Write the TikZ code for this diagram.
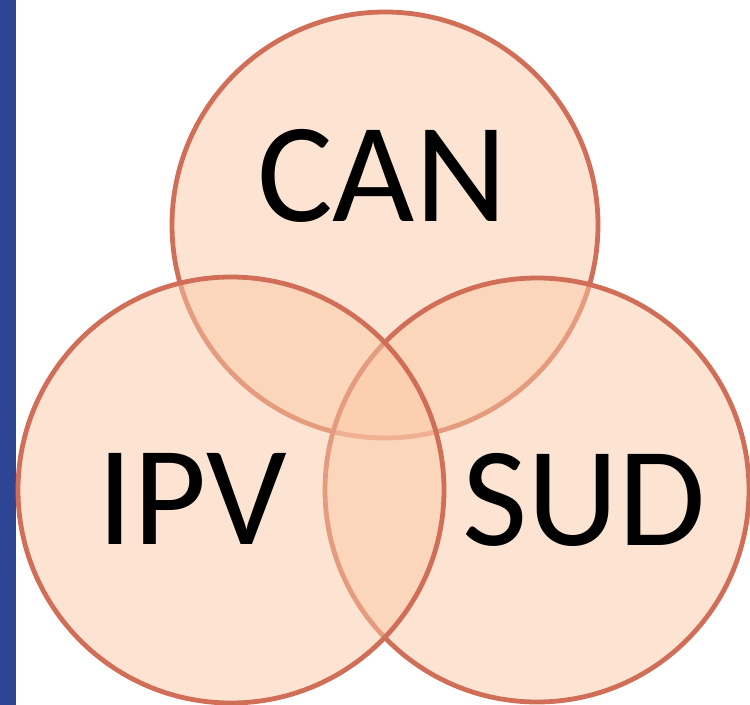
\documentclass[tikz,border=0pt]{standalone}
\usepackage{fontspec}
\setmainfont{Carlito}
\usepackage{tikz}
\definecolor{barblue}{RGB}{46,69,148}
\definecolor{vennfill}{RGB}{250,200,165}
\definecolor{vennline}{RGB}{208,110,88}

\begin{document}
\begin{tikzpicture}[x=0.5pt,y=-0.5pt,
    venn/.style={line width=2.4pt,draw=vennline,fill=vennfill,fill opacity=0.5},
    label/.style={font=\fontsize{71}{71}\selectfont,text=black,inner sep=0pt}]
            \useasboundingbox (0,0) rectangle (750,705);
            \fill [barblue] (0,0) rectangle (16,705);
            \draw [venn] (385,225) circle (213);
            \draw [venn] (537,490) circle (212);
            \draw [venn] (231,490) circle (213);
          \node [label] (can) at (382,176) {CAN};
          \node [label] (ipv) at (192,499) {IPV};
          \node [label] (sud) at (584,500) {SUD};
        \end{tikzpicture}
\end{document}
